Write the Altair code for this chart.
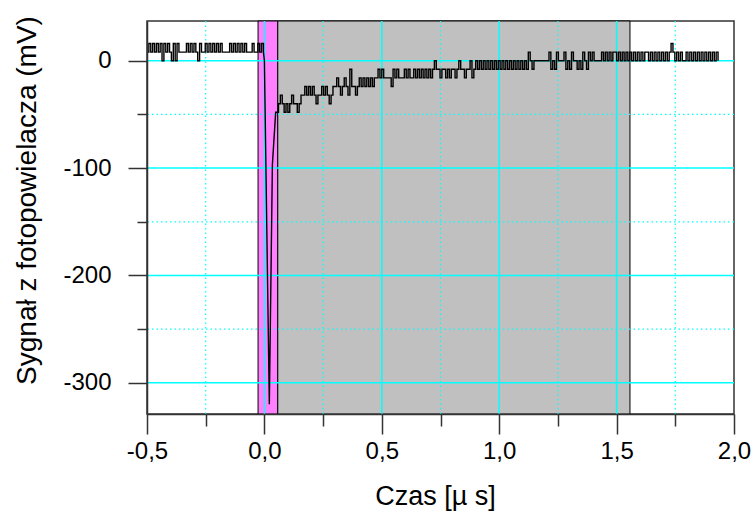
import altair as alt
import pandas as pd

# ---- axes ----
X_MIN, X_MAX = -0.5, 2.0
Y_MIN, Y_MAX = -329, 37
X_MAJOR = [-0.5, 0.0, 0.5, 1.0, 1.5, 2.0]
X_MINOR = [-0.25, 0.25, 0.75, 1.25, 1.75]
Y_MAJOR = [0, -100, -200, -300]
Y_MINOR = [-50, -150, -250]

# ---- shaded bands ----
band_start = [-0.027, 0.057]
band_end = [0.057, 1.557]
band_color = ["#FF80FF", "#C0C0C0"]

# ---- trace (ADC counts, 8 mV per count) ----
LSB_MV = 8
DT = 0.008
pre_t0 = -0.5
pre_counts = [1, 2, 1, 2, 1, 2, 1, 2, 0, 2, 1, 2, 1, 0, 2, 0, 2,
              1, 1, 1, 1,
              2, 1, 2, 1, 2, 1, 0, 2,
              1, 1,
              2, 1, 2, 1, 2, 1, 2, 1, 2, 1,
              1, 1, 1,
              2, 1, 2, 1, 2, 1, 2, 1, 2, 1,
              1, 1,
              2,
              1, 1,
              2, 1, 2]
pulse_t = [-0.004, 0.0, 0.021, 0.034, 0.048, 0.055]
pulse_mv = [8, 0, -320, -97, -48, -48]
post_t0 = 0.060
post_counts = [-5, -4, -5, -6, -5, -6, -5,
               -4, -5, -5, -6, -5, -4,
               -4, -3, -4, -3, -4, -3,
               -4, -5, -4, -4, -3,
               -4, -3, -4, -5, -4, -3,
               -3, -2, -3, -4, -3, -2, -3,
               -4, -1, -3, -3, -4,
               -3, -2, -3, -2, -3, -2, -3, -2, -3, -2, -2,
               -1, -2, -1, -2, -2, -2, -2, -3, -1, -2, -1, -2, -2,
               -2, -1, -2, -1, -2, -2, -1, -2, -1, -2, -1, -2, -1, -2, -1, -2, -1,
               0, -1,
               -1, -2, -1, -1, -2, -1, -2, -1, -1, -2, -1, 0, -1, -1, -2, -1,
               -1, 0, -2, -1, 0, -1, 0, -1, 0, -1, 0, -1, 0, -1, 0, -1,
               0, -1, 0, -1, 0, -1, 0, -1, 0, -1, 0, -1, 0, -1, 0, -1,
               1, 0, -1, 0,
               0, 0, 0, 0, 0, 0, 0,
               1, -1, 0, -1, 1, 0, 0, 0, 1, -1, 0, -1, 1, 0, 0, -1, 0, -1, 1, 0, -1,
               1, 0, 1,
               0, 0, 0, 0,
               1, 0, 1, 0, 1, 0, 1, 1, 0, 1,
               0, 1, 0, 1, 0, 1, 0, 1, 0, 1,
               0, 1, 0, 1, 1, 0, 1, 0, 1, 0,
               1, 0, 1, 0, 1, 0, 1, 2, 1, 0,
               1, 0, 1, 0, 0, 1, 0, 1, 0, 1,
               0, 1, 0, 1, 0, 1, 0, 1, 0, 1,
               0, 1, 0]

# ---- build trace tables ----
pre_t = [pre_t0 + i * DT for i in range(len(pre_counts))]
pre_mv = [c * LSB_MV for c in pre_counts]
post_t = [post_t0 + i * DT for i in range(len(post_counts))]
post_mv = [c * LSB_MV for c in post_counts]

# noisy parts (drawn as sample-and-hold steps); the pulse joins them with straight lines
noise = pd.DataFrame({
    "t": pre_t + [pulse_t[0]] + [pulse_t[-1]] + post_t,
    "mv": pre_mv + [pulse_mv[0]] + [pulse_mv[-1]] + post_mv,
    "seg": ["pre"] * (len(pre_t) + 1) + ["post"] * (len(post_t) + 1),
})
pulse = pd.DataFrame({"t": pulse_t, "mv": pulse_mv})

bands = pd.DataFrame({"start": band_start, "end": band_end, "color": band_color,
                      "lo": [Y_MIN] * len(band_start), "hi": [Y_MAX] * len(band_start)})

FONT = "Liberation Sans"
CYAN = "#00FFFF"
AX = "#333333"

xscale = alt.Scale(domain=[X_MIN, X_MAX], nice=False, zero=False)
yscale = alt.Scale(domain=[Y_MIN, Y_MAX], nice=False, zero=False)

x_axis = alt.Axis(
    values=X_MAJOR, orient="bottom", grid=False, zindex=1,
    title="Czas [µ s]", titleFont=FONT, titleFontSize=27, titleFontWeight="normal",
    titleColor="black", titleX=288, titleY=82, titleAlign="center", titleBaseline="middle",
    titleLimit=1000,
    labelExpr="replace(replace(format(datum.value, '.1f'), '.', ','), '\u2212', '-')",
    labelFont=FONT, labelFontSize=24, labelColor="black", labelPadding=5,
    labelFlush=False, labelOverlap=False,
    tickSize=20, tickColor=AX, tickWidth=1.5, domainColor=AX, domainWidth=1.5,
)
y_axis = alt.Axis(
    values=Y_MAJOR, orient="left", grid=False, zindex=1,
    title="Sygnał z fotopowielacza (mV)", titleFont=FONT, titleFontSize=28,
    titleFontWeight="normal", titleColor="black", titleAngle=270,
    titleX=-120, titleY=179, titleAlign="center", titleBaseline="middle",
    titleLimit=1000,
    labelExpr="replace(format(datum.value, 'd'), '\u2212', '-')",
    labelFont=FONT, labelFontSize=24, labelColor="black", labelPadding=17,
    labelFlush=False, labelOverlap=False,
    tickSize=19, tickColor=AX, tickWidth=1.5, domainColor=AX, domainWidth=1.5,
)
x_axis_minor = alt.Axis(
    values=X_MINOR, orient="bottom", grid=False, zindex=1, title="",
    labels=False, domain=False, tickSize=12, tickColor=AX, tickWidth=1.5,
)
y_axis_minor = alt.Axis(
    values=Y_MINOR, orient="left", grid=False, zindex=1, title="",
    labels=False, domain=False, tickSize=10, tickColor=AX, tickWidth=1.5,
)

band_layer = alt.Chart(bands).mark_rect(stroke="black", strokeWidth=1).encode(
    x=alt.X("start:Q", scale=xscale, axis=x_axis),
    x2="end:Q",
    y=alt.Y("lo:Q", scale=yscale, axis=y_axis),
    y2="hi:Q",
    color=alt.Color("color:N", scale=None),
)

x_grid_major = [v for v in X_MAJOR if X_MIN < v < X_MAX]
y_grid_major = [v for v in Y_MAJOR if Y_MIN < v < Y_MAX]

minor_v = alt.Chart(pd.DataFrame({"x": X_MINOR})).mark_rule(
    color=CYAN, strokeWidth=1.2, strokeDash=[1.5, 3]).encode(
    x=alt.X("x:Q", scale=xscale, axis=x_axis_minor))
minor_h = alt.Chart(pd.DataFrame({"y": Y_MINOR})).mark_rule(
    color=CYAN, strokeWidth=1.2, strokeDash=[1.5, 3]).encode(
    y=alt.Y("y:Q", scale=yscale, axis=y_axis_minor))
major_v = alt.Chart(pd.DataFrame({"x": x_grid_major})).mark_rule(
    color=CYAN, strokeWidth=1.5).encode(
    x=alt.X("x:Q", scale=xscale, axis=None))
major_h = alt.Chart(pd.DataFrame({"y": y_grid_major})).mark_rule(
    color=CYAN, strokeWidth=1.5).encode(
    y=alt.Y("y:Q", scale=yscale, axis=None))

noise_line = alt.Chart(noise).mark_line(
    color="black", strokeWidth=1.4, interpolate="step-after").encode(
    x=alt.X("t:Q", scale=xscale, axis=None),
    y=alt.Y("mv:Q", scale=yscale, axis=None),
    detail="seg:N",
)
pulse_line = alt.Chart(pulse).mark_line(color="black", strokeWidth=1.4).encode(
    x=alt.X("t:Q", scale=xscale, axis=None),
    y=alt.Y("mv:Q", scale=yscale, axis=None),
)

chart = alt.layer(
    band_layer, minor_v, minor_h, major_v, major_h, noise_line, pulse_line
).resolve_axis(x="independent", y="independent").properties(
    width=587, height=393,
    autosize=alt.AutoSizeParams(type="none"),
    padding={"left": 147, "top": 21, "right": 19, "bottom": 99},
    background="white",
).configure_view(stroke=AX, strokeWidth=1.5)

chart.save("out.html", embed_options={"renderer": "svg", "actions": False})
